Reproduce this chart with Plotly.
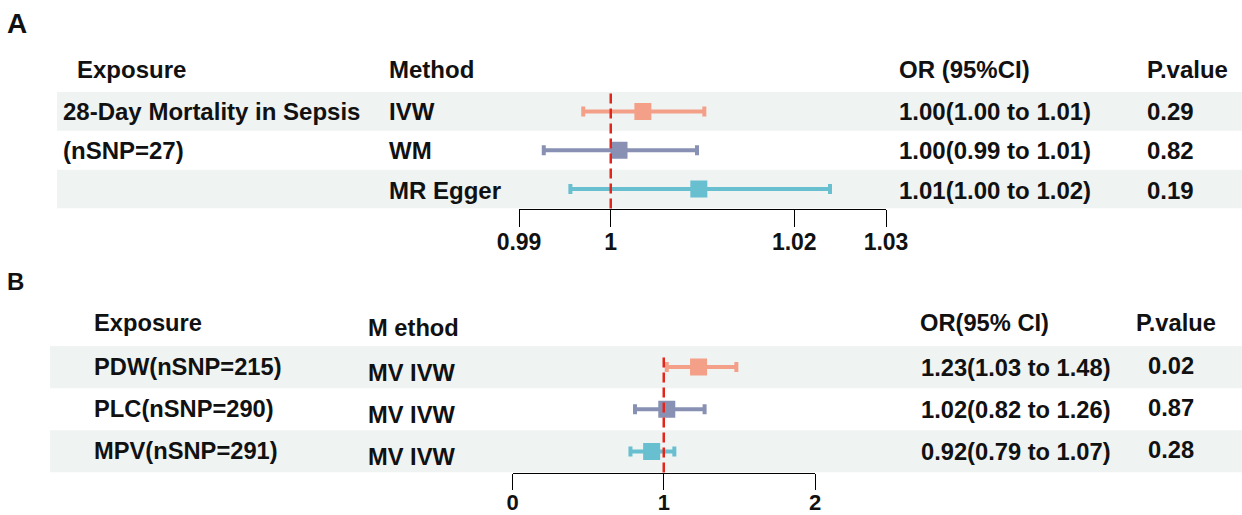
import plotly.graph_objects as go

W, H = 1242, 515

# ---------------- Data ----------------
# Panel A
a_methods = ["IVW", "WM", "MR Egger"]
a_or = [1.0035, 1.0009, 1.0096]
a_lo = [0.9970, 0.9927, 0.9956]
a_hi = [1.0102, 1.0094, 1.0239]
a_or_text = ["1.00(1.00 to 1.01)", "1.00(0.99 to 1.01)", "1.01(1.00 to 1.02)"]
a_p_text = ["0.29", "0.82", "0.19"]
a_exposure = ["28-Day Mortality in Sepsis", "(nSNP=27)", ""]
a_ticks = [0.99, 1, 1.02, 1.03]
a_ticktext = ["0.99", "1", "1.02", "1.03"]

# Panel B
b_exposure = ["PDW(nSNP=215)", "PLC(nSNP=290)", "MPV(nSNP=291)"]
b_methods = ["MV IVW", "MV IVW", "MV IVW"]
b_or = [1.23, 1.02, 0.92]
b_lo = [1.02, 0.81, 0.78]
b_hi = [1.48, 1.27, 1.07]
b_or_text = ["1.23(1.03 to 1.48)", "1.02(0.82 to 1.26)", "0.92(0.79 to 1.07)"]
b_p_text = ["0.02", "0.87", "0.28"]
b_ticks = [0, 1, 2]
b_ticktext = ["0", "1", "2"]

colors = ["#F4A088", "#8891B4", "#68BFD0"]
band = "#EFF3F2"
red = "#E3261C"
FONT = "Liberation Sans"
SA = 24      # panel A text size
SB = 23.7    # panel B text size

def px(x):
    return x / W

def py(y):
    return 1 - y / H

fig = go.Figure()

rows = [2.5, 1.5, 0.5]

# ---- markers with CIs ----
for i in range(3):
    fig.add_trace(go.Scatter(
        x=[a_or[i]], y=[rows[i]], mode="markers", xaxis="x", yaxis="y",
        marker=dict(symbol="square", size=17, color=colors[i]),
        error_x=dict(type="data", symmetric=False,
                     array=[a_hi[i] - a_or[i]], arrayminus=[a_or[i] - a_lo[i]],
                     color=colors[i], thickness=4, width=5),
        showlegend=False, hoverinfo="skip"))
    fig.add_trace(go.Scatter(
        x=[b_or[i]], y=[rows[i]], mode="markers", xaxis="x2", yaxis="y2",
        marker=dict(symbol="square", size=17, color=colors[i]),
        error_x=dict(type="data", symmetric=False,
                     array=[b_hi[i] - b_or[i]], arrayminus=[b_or[i] - b_lo[i]],
                     color=colors[i], thickness=4, width=5),
        showlegend=False, hoverinfo="skip"))

shapes = []
# bands panel A
for y0 in (2, 0):
    shapes.append(dict(type="rect", xref="paper", yref="y", x0=px(57), x1=1,
                       y0=y0, y1=y0 + 1, fillcolor=band, line=dict(width=0), layer="below"))
# bands panel B
for y0 in (2, 0):
    shapes.append(dict(type="rect", xref="paper", yref="y2", x0=px(50), x1=1,
                       y0=y0, y1=y0 + 1, fillcolor=band, line=dict(width=0), layer="below"))
# reference lines (from top of first band down to the axis line)
shapes.append(dict(type="line", xref="x", yref="paper", x0=1, x1=1, y0=py(208.5), y1=py(92),
                   line=dict(color=red, width=2.5, dash="10px,5px"), layer="above"))
shapes.append(dict(type="line", xref="x2", yref="paper", x0=1, x1=1, y0=py(472.5), y1=py(353),
                   line=dict(color=red, width=2.5, dash="10px,5px"), layer="above"))

annotations = []

def ann(text, x, y, size, anchor="left"):
    annotations.append(dict(text=text, x=px(x - 1), y=py(y), xref="paper", yref="paper",
                            xanchor=anchor, yanchor="middle", showarrow=False,
                            borderpad=0, borderwidth=0,
                            font=dict(family=FONT, size=size, color="#111111", weight="bold")))

ann("A", 8, 23, 28)
ann("B", 8, 281, 24)

# Panel A header
ann("Exposure", 78, 70, SA)
ann("Method", 390, 70, SA)
ann("OR (95%CI)", 900, 70, SA)
ann("P.value", 1148, 70, SA)
a_ys = [112, 151, 190]
for i in range(3):
    if a_exposure[i]:
        ann(a_exposure[i], 64, a_ys[i], SA)
    ann(a_methods[i], 390, a_ys[i], SA)
    ann(a_or_text[i], 900, a_ys[i], SA)
    ann(a_p_text[i], 1148, a_ys[i], SA)

# Panel B header
ann("Exposure", 95, 323, SB)
ann("M ethod", 369, 328, SB)
ann("OR(95% CI)", 921, 323, SB)
ann("P.value", 1137, 323, SB)
b_ys = [367, 409, 451]
for i in range(3):
    ann(b_exposure[i], 95, b_ys[i], SB)
    ann(b_methods[i], 369, b_ys[i] + 6, SB)
    ann(b_or_text[i], 922, b_ys[i] + 1, SB)
    ann(b_p_text[i], 1149, b_ys[i] - 1, SB)

def axis_style(ticklen, standoff, size):
    return dict(showline=True, linecolor="black", linewidth=1, ticks="outside",
                tickcolor="black", tickwidth=1, ticklen=ticklen, showgrid=False,
                zeroline=False, fixedrange=True, automargin=False,
                ticklabelstandoff=standoff,
                tickfont=dict(family=FONT, size=size, color="#111111", weight="bold"))

fig.update_layout(
    width=W, height=H, margin=dict(l=0, r=0, t=0, b=0, pad=0, autoexpand=False),
    paper_bgcolor="white", plot_bgcolor="rgba(0,0,0,0)",
    xaxis=dict(domain=[px(519), px(886)], range=[0.99, 1.03], anchor="y",
               tickvals=a_ticks, ticktext=a_ticktext, **axis_style(17, -4, 23)),
    yaxis=dict(domain=[py(208.5), py(92)], range=[0, 3], visible=False,
               fixedrange=True, automargin=False),
    xaxis2=dict(domain=[px(512.5), px(815)], range=[0, 2], anchor="y2",
                tickvals=b_ticks, ticktext=b_ticktext, **axis_style(16, -6, 22)),
    yaxis2=dict(domain=[py(472.5), py(346)], range=[0, 3], visible=False,
                fixedrange=True, automargin=False),
    shapes=shapes, annotations=annotations, showlegend=False,
)

fig.write_html("out.html", config={"displayModeBar": False},
               post_script="document.body.style.margin='0';document.body.style.padding='0';"
                           "document.documentElement.style.overflow='hidden';")
